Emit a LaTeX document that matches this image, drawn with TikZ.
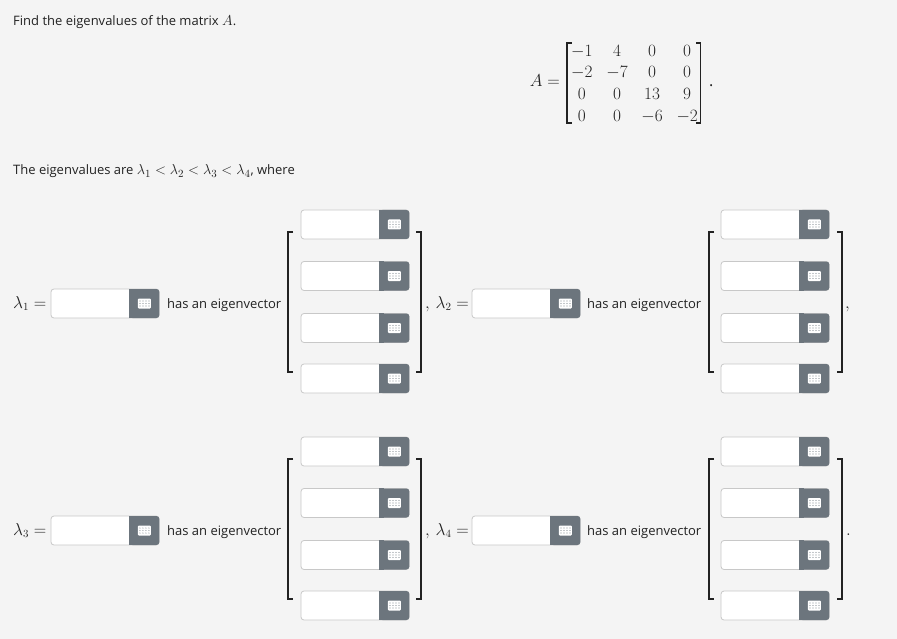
\documentclass[tikz,border=0pt]{standalone}
\usepackage{amsmath}
\usepackage{fontspec}
\setmainfont{Open Sans}
\usepackage{tikz}
\usetikzlibrary{calc}
\definecolor{pagebg}{HTML}{F4F4F4}
\definecolor{ink}{HTML}{222222}
\definecolor{fieldline}{HTML}{C8C8C8}
\definecolor{btngray}{HTML}{6C757D}
\tikzstyle{field}=[draw=fieldline, fill=white, rounded corners=3pt, minimum width=108pt, minimum height=29pt, inner sep=0, line width=0.8pt]
\tikzstyle{btn}=[fill=btngray, rounded corners=3pt, minimum width=30pt, minimum height=29pt, inner sep=0]
\tikzstyle{icon}=[fill=white, rounded corners=1pt, minimum width=13pt, minimum height=10pt, inner sep=0]
\tikzstyle{txt}=[text=ink, font=\fontsize{13}{15}\selectfont, inner sep=0, anchor=base west]
\tikzstyle{lam}=[text=ink, font=\fontsize{16}{19}\selectfont, inner sep=0, anchor=base west]
\tikzstyle{entry}=[text=ink, font=\fontsize{16}{19}\selectfont, inner sep=0, anchor=base]
\tikzstyle{bracket}=[draw=ink, line width=1.3pt]
% one answer box with its keypad button
\newcommand{\answer}[3]{%
  \node[field] (#1) at (#2,#3) {};
  \node[btn] (#1b) at ([xshift=-15pt]#1.east) {};
  \fill[btngray] (#1b.north west) rectangle ([xshift=5pt]#1b.south west);
  \node[icon] (#1i) at (#1b) {};
  \foreach \dx in {-4.5,-1.5,1.5,4.5} \foreach \dy in {-2.5,0,2.5}
    \fill[btngray!80] ([shift={(\dx pt,\dy pt)}]#1i.center) circle (0.6pt);
}
% square brackets round a column of boxes
\newcommand{\vbrackets}[4]{%
  \draw[bracket] ({#1+5},#3) -- (#1,#3) -- (#1,#4) -- ({#1+5},#4);
  \draw[bracket] ({#2-5},#3) -- (#2,#3) -- (#2,#4) -- ({#2-5},#4);
}

\begin{document}
\begin{tikzpicture}[x=1pt, y=-1pt]
  \fill[pagebg] (0,0) rectangle (897,639);
  \useasboundingbox (0,0) rectangle (897,639);

  \node[txt] (title) at (13,26) {Find the eigenvalues of the matrix \fontsize{15}{18}\selectfont$A$\fontsize{13}{15}\selectfont.};

  % the matrix A
  \node[lam, anchor=base east] (aeq) at (560,87) {$A =$};
  \foreach \row [count=\i] in {{-1,4,0,0},{-2,-7,0,0},{0,0,13,9},{0,0,-6,-2}}
    \foreach \val [count=\j] in \row
      \node[entry] (a\i\j) at ({546.8+35.1*\j},{34.8+21.6*\i}) {$\val$};
  \draw[bracket] (571.8,43) -- (567,43) -- (567,123) -- (571.8,123);
  \draw[bracket] (696,43) -- (700.8,43) -- (700.8,123) -- (696,123);
  \node[lam] (adot) at (709,87) {.};

  \node[txt] (intro) at (13,175) {The eigenvalues are \fontsize{15.6}{18}\selectfont$\lambda_1<\lambda_2<\lambda_3<\lambda_4$\fontsize{13}{15}\selectfont, where};

  % first row
  \node[lam] (l1) at (13,308) {$\lambda_1 =$};
  \answer{e1}{105}{303.5}
  \node[txt] (h1) at (167,308) {has an eigenvector};
  \answer{v11}{355}{224.5}
  \answer{v12}{355}{276}
  \answer{v13}{355}{328}
  \answer{v14}{355}{378.5}
  \vbrackets{288}{421}{232}{372}
  \node[lam] (l2) at (425,308) {$,\, \lambda_2 =$};
  \answer{e2}{526}{303.5}
  \node[txt] (h2) at (587,308) {has an eigenvector};
  \answer{v21}{775}{224.5}
  \answer{v22}{775}{276}
  \answer{v23}{775}{328}
  \answer{v24}{775}{378.5}
  \vbrackets{709}{842}{232}{372}
  \node[lam] (c2) at (845,308) {$,$};

  % second row
  \node[lam] (l3) at (13,535) {$\lambda_3 =$};
  \answer{e3}{105}{530.5}
  \node[txt] (h3) at (167,535) {has an eigenvector};
  \answer{v31}{355}{451.5}
  \answer{v32}{355}{503}
  \answer{v33}{355}{555}
  \answer{v34}{355}{605.5}
  \vbrackets{288}{421}{459}{599}
  \node[lam] (l4) at (425,535) {$,\, \lambda_4 =$};
  \answer{e4}{526}{530.5}
  \node[txt] (h4) at (587,535) {has an eigenvector};
  \answer{v41}{775}{451.5}
  \answer{v42}{775}{503}
  \answer{v43}{775}{555}
  \answer{v44}{775}{605.5}
  \vbrackets{709}{842}{459}{599}
  \node[lam] (c4) at (846,535) {$.$};
\end{tikzpicture}
\end{document}
